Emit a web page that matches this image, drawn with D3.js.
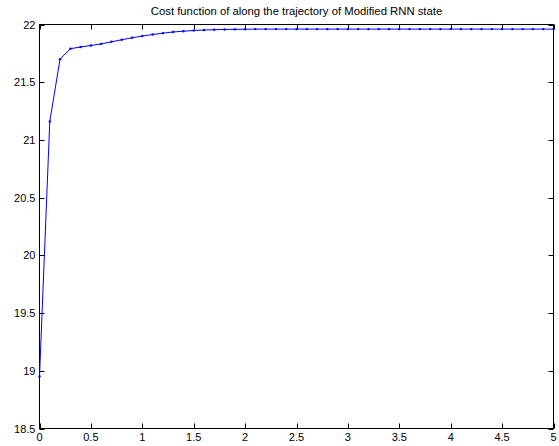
<!DOCTYPE html>
<html><head><meta charset="utf-8">
<script src="https://cdn.jsdelivr.net/npm/d3@7"></script>
<style>body{margin:0;background:#fff}text{font-family:"Liberation Sans",Arial,sans-serif}</style>
</head><body>
<svg id="c" width="559" height="446"></svg>
<script>
const titleText = "Cost function of along the trajectory of Modified RNN state";
const tValues = [0,0.1,0.2,0.3,0.4,0.5,0.6,0.7,0.8,0.9,1.0,1.1,1.2,1.3,1.4,1.5,1.6,1.7,1.8,1.9,2.0,
  2.1,2.2,2.3,2.4,2.5,2.6,2.7,2.8,2.9,3.0,3.1,3.2,3.3,3.4,3.5,3.6,3.7,3.8,3.9,4.0,
  4.1,4.2,4.3,4.4,4.5,4.6,4.7,4.8,4.9,5.0];
const costValues = [18.95,21.16,21.70,21.79,21.805,21.818,21.832,21.85,21.868,21.885,21.90,
  21.913,21.925,21.935,21.942,21.948,21.952,21.955,21.957,21.958,21.959,
  21.96,21.96,21.96,21.96,21.96,21.96,21.96,21.96,21.96,21.96,
  21.96,21.96,21.96,21.96,21.96,21.96,21.96,21.96,21.96,21.96,
  21.96,21.96,21.96,21.96,21.96,21.96,21.96,21.96,21.96,21.96];
const xTicks = [0,0.5,1,1.5,2,2.5,3,3.5,4,4.5,5];
const yTicks = [18.5,19,19.5,20,20.5,21,21.5,22];

const svg = d3.select("#c");
const L = 39.5, R = 553.5, T = 24.5, B = 428.5;
const x = d3.scaleLinear().domain([0,5]).range([L,R]);
const y = d3.scaleLinear().domain([18.5,22]).range([B,T]);
const fmt = d => String(d);

svg.append("rect").attr("x",L).attr("y",T).attr("width",R-L).attr("height",B-T)
  .attr("fill","none").attr("stroke","#000").attr("stroke-width",1);

const tl = 5;
const g = svg.append("g").attr("stroke","#000").attr("stroke-width",1);
xTicks.forEach(v=>{
  const px = Math.round(x(v))+0.5;
  g.append("line").attr("x1",px).attr("x2",px).attr("y1",B).attr("y2",B-tl);
  g.append("line").attr("x1",px).attr("x2",px).attr("y1",T).attr("y2",T+tl);
});
yTicks.forEach(v=>{
  const py = Math.round(y(v))+0.5;
  g.append("line").attr("x1",L).attr("x2",L+tl).attr("y1",py).attr("y2",py);
  g.append("line").attr("x1",R).attr("x2",R-tl).attr("y1",py).attr("y2",py);
});
svg.append("g").selectAll("text").data(xTicks).join("text")
  .attr("x",d=>x(d)).attr("y",B+12.5).attr("text-anchor","middle")
  .attr("font-size",11).attr("fill","#000").text(fmt);
svg.append("g").selectAll("text").data(yTicks).join("text")
  .attr("x",L-4).attr("y",d=>y(d)+4).attr("text-anchor","end")
  .attr("font-size",11).attr("fill","#000").text(fmt);

svg.append("text").attr("x",(L+R)/2).attr("y",15).attr("text-anchor","middle")
  .attr("font-size",11.3).attr("fill","#000").text(titleText);

const data = tValues.map((t,i)=>({t, v:costValues[i]}));
svg.append("path").datum(data)
  .attr("d", d3.line().x(d=>x(d.t)).y(d=>y(d.v)))
  .attr("fill","none").attr("stroke","#0000ff").attr("stroke-width",1);
svg.append("g").selectAll("circle").data(data).join("circle")
  .attr("cx",d=>x(d.t)).attr("cy",d=>y(d.v)).attr("r",1.2).attr("fill","#0000ff");
</script>
</body></html>
